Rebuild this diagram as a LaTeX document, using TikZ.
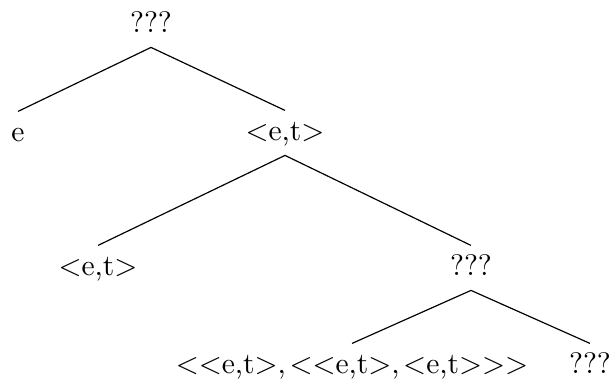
\documentclass[tikz,border=0pt]{standalone}
\begin{document}
\begin{tikzpicture}[x=0.33789pt,y=-0.33789pt,
  lbl/.style={anchor=base,text height=7pt,text depth=2.2pt,inner xsep=0pt,inner ysep=2.8pt},
  edge/.style={draw=black,line width=0.4pt}]
\useasboundingbox (0,0) rectangle (615,387);
\node[lbl] (root) at (151,32) {???};
\node[lbl] (e) at (18,141) {e};
\node[lbl] (et1) at (285,140) {<e,t>};
\node[lbl] (et2) at (98,275) {<e,t>};
\node[lbl] (q2) at (471,275) {???};
\node[lbl] (long) at (352,373) {<{}<e,t>{},\kern1.2pt<{}<e,t>{},\kern1.2pt<e,t>{}>{}>};
\node[lbl] (q3) at (590,373) {???};
\draw[edge] (root.south) -- (e.north);
\draw[edge] (root.south) -- (et1.north);
\draw[edge] (et1.south) -- (et2.north);
\draw[edge] (et1.south) -- (q2.north);
\draw[edge] (q2.south) -- (long.north);
\draw[edge] (q2.south) -- (q3.north);
\end{tikzpicture}
\end{document}
